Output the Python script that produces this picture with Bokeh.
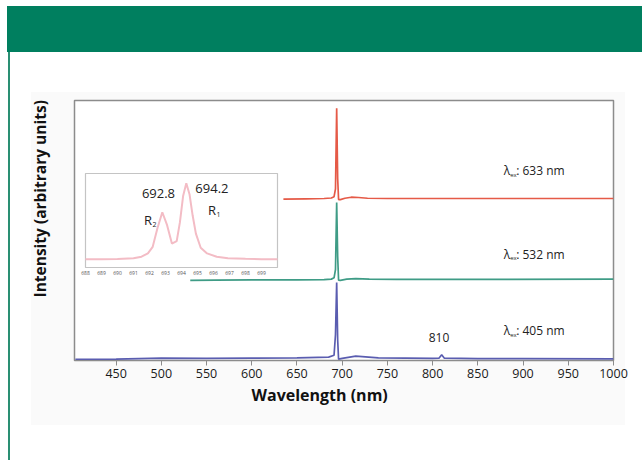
from bokeh.plotting import figure
from bokeh.models import Range1d, FixedTicker, Title
from bokeh.core.properties import value
from bokeh.embed import file_html
from bokeh.resources import INLINE

# ---------------- data ----------------
x_ticks = [450, 500, 550, 600, 650, 700, 750, 800, 850, 900, 950, 1000]

red_x = [635, 660, 680, 688, 691, 692.6, 693.9, 695.0, 696.0, 698, 703, 710, 718, 728, 750, 800, 900, 1000]
red_y = [62.1, 62.2, 62.3, 62.5, 63.0, 66.0, 97.0, 70.0, 61.9, 61.9, 62.4, 62.8, 62.7, 62.4, 62.3, 62.3, 62.3, 62.3]

green_x = [532, 560, 600, 650, 680, 688, 691, 692.6, 693.9, 695.0, 696.0, 698, 705, 715, 730, 760, 850, 1000]
green_y = [30.8, 30.9, 31.0, 31.0, 31.1, 31.3, 31.8, 35.0, 60.8, 40.0, 30.9, 30.8, 31.3, 31.5, 31.3, 31.2, 31.2, 31.3]

blue_x = [405, 450, 500, 550, 600, 650, 685, 691, 692.6, 693.9, 695.0, 696.0, 700, 715, 740, 800, 807, 810, 813, 850, 900, 1000]
blue_y = [0.4, 0.5, 0.9, 0.8, 0.9, 1.0, 1.3, 2.0, 10.0, 30.0, 8.0, 0.5, 0.8, 1.7, 1.0, 0.8, 0.9, 2.2, 0.9, 0.7, 0.7, 0.6]

inset_ticks = [688, 689, 690, 691, 692, 693, 694, 695, 696, 697, 698, 699]
inset_x = [688, 689, 690, 691, 691.5, 691.9, 692.2, 692.5, 692.8, 693.1, 693.4, 693.7, 693.9, 694.1, 694.3, 694.5, 694.7, 694.9, 695.2, 695.6, 696.2, 696.9, 698, 699, 700]
inset_y = [8.8, 8.8, 9.0, 9.8, 11.5, 15.0, 22.0, 42.0, 58.8, 45.0, 25.5, 28.0, 48.0, 76.0, 89.7, 78.0, 55.0, 36.0, 21.0, 15.0, 11.5, 9.9, 9.2, 8.9, 8.8]

peak_labels = ["692.8", "694.2"]
peak_label_x = [692.56, 695.9]
peak_label_y = [78.7, 84.0]
line_names = ["R", "R"]
line_subs = ["2", "1"]
line_name_x = [691.9, 695.9]
line_name_y = [51.0, 61.7]

ex_texts = [": 633 nm", ": 532 nm", ": 405 nm"]
ex_x = [878.6, 878.6, 878.6]
ex_y = [73.0, 40.8, 11.5]

extra_peak = ["810"]
extra_peak_x = [807]
extra_peak_y = [8.8]

FONT = "Open Sans"

page_css = {
    "background-image": ("linear-gradient(#007f5f,#007f5f), linear-gradient(#2a8f73,#2a8f73), "
                         "linear-gradient(#fafafa,#fafafa)"),
    "background-size": "635px 46px, 2px 408px, 594px 333px",
    "background-position": "7px 6px, 8px 52px, 31px 92px",
    "background-repeat": "no-repeat",
    "background-color": "white",
}

p = figure(width=642, height=460, x_range=Range1d(404, 1000), y_range=Range1d(0, 100),
           output_backend="svg", toolbar_location=None, styles=page_css,
           min_border_left=74, min_border_right=29, min_border_top=100, min_border_bottom=100)
p.background_fill_color = "white"
p.border_fill_color = None
p.outline_line_color = "#8c8c8c"
p.outline_line_width = 1.5
p.xgrid.visible = False
p.ygrid.visible = False
p.yaxis.visible = False

# x axis
xa = p.xaxis[0]
xa.ticker = FixedTicker(ticks=x_ticks)
xa.minor_tick_line_color = None
xa.major_tick_out = 5
xa.major_tick_in = 0
xa.major_tick_line_color = "#8c8c8c"
xa.axis_line_color = "#8c8c8c"
xa.major_label_text_font = FONT
xa.major_label_text_font_size = "12.5px"
xa.major_label_text_color = "#1a1a1a"
xa.major_label_standoff = 3

# axis titles (offset from the frame start, as in the reference)
p.add_layout(Title(text="Wavelength (nm)", align="left", offset=177, standoff=2,
                   text_font=FONT, text_font_size="16px", text_font_style="bold",
                   text_color="#111111"), "below")
p.add_layout(Title(text="Intensity (arbitrary units)", align="left", offset=63, standoff=48,
                   text_font=FONT, text_font_size="15.5px", text_font_style="bold",
                   text_color="#111111"), "left")

# spectra
p.line(red_x, red_y, line_color="#e55a47", line_width=1.7)
p.line(green_x, green_y, line_color="#3f9c86", line_width=1.7)
p.line(blue_x, blue_y, line_color="#5a5db0", line_width=1.7)

# inset via extra ranges
p.extra_x_ranges = {"ix": Range1d(687.3125, 721.0)}
p.extra_y_ranges = {"iy": Range1d(-98.94, 177.66)}
inset_x_extent = (688, 700)
inset_y_extent = (0, 100)
p.quad(left=[inset_x_extent[0]], right=[inset_x_extent[1]], bottom=[inset_y_extent[0]], top=[inset_y_extent[1]],
       x_range_name="ix", y_range_name="iy", fill_color="white", line_color="#c4c4c4", line_width=1.2)
p.line(inset_x, inset_y, x_range_name="ix", y_range_name="iy", line_color="#f3bcc5", line_width=2)
p.text(x=inset_ticks, y=[inset_y_extent[0]] * len(inset_ticks), text=[str(t) for t in inset_ticks],
       x_range_name="ix", y_range_name="iy", y_offset=6, text_font=value(FONT), text_font_size="5px",
       text_align="center", text_baseline="middle", text_color="#555555")
p.text(x=peak_label_x, y=peak_label_y, text=peak_labels, x_range_name="ix", y_range_name="iy",
       text_font=value(FONT), text_font_size="13px", text_align="center", text_baseline="middle",
       text_color="#222222")
p.text(x=line_name_x, y=line_name_y, text=line_names, x_range_name="ix", y_range_name="iy",
       text_font=value(FONT), text_font_size="13px", text_align="center", text_baseline="middle",
       text_color="#222222")
p.text(x=line_name_x, y=line_name_y, text=line_subs, x_range_name="ix", y_range_name="iy",
       x_offset=6.5, y_offset=5, text_font=value(FONT), text_font_size="7px", text_align="center",
       text_baseline="middle", text_color="#222222")

# excitation labels
p.text(x=ex_x, y=ex_y, text=["λ"] * 3, text_font=value(FONT), text_font_size="12px",
       text_align="left", text_baseline="middle", text_color="#222222")
p.text(x=ex_x, y=ex_y, text=["ex"] * 3, x_offset=6.5, y_offset=4, text_font=value(FONT),
       text_font_size="6px", text_align="left", text_baseline="middle", text_color="#222222")
p.text(x=ex_x, y=ex_y, text=ex_texts, x_offset=12.5, text_font=value(FONT), text_font_size="12px",
       text_align="left", text_baseline="middle", text_color="#222222")
p.text(x=extra_peak_x, y=extra_peak_y, text=extra_peak, text_font=value(FONT), text_font_size="12px",
       text_align="center", text_baseline="middle", text_color="#222222")

open("out.html", "w").write(file_html(p, INLINE))
